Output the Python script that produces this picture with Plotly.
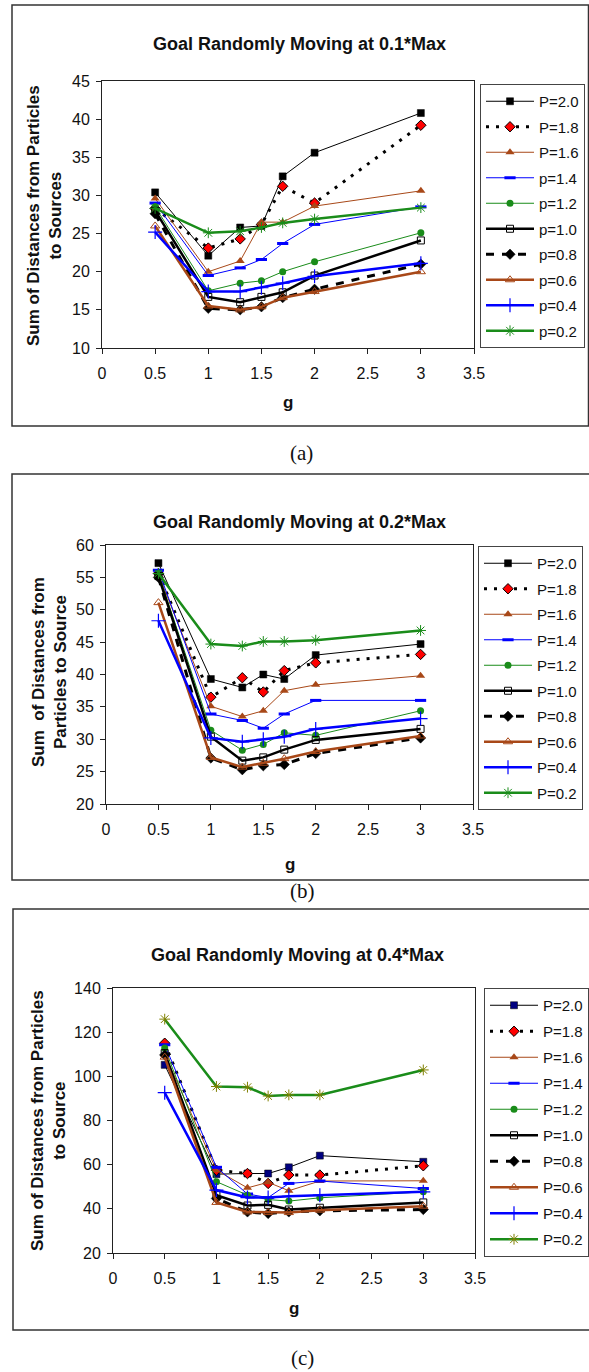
import plotly.graph_objects as go

W, H = 589, 1372

# ---------------- data ----------------
g = [0.5, 1, 1.3, 1.5, 1.7, 2, 3]

labels_a = ["P=2.0", "P=1.8", "P=1.6", "p=1.4", "p=1.2", "p=1.0", "p=0.8", "p=0.6", "p=0.4", "p=0.2"]
labels_bc = ["P=2.0", "P=1.8", "P=1.6", "P=1.4", "P=1.2", "P=1.0", "P=0.8", "P=0.6", "P=0.4", "P=0.2"]

titles = ["Goal Randomly Moving at 0.1*Max",
          "Goal Randomly Moving at 0.2*Max",
          "Goal Randomly Moving at 0.4*Max"]
ytitles = ["Sum of Distances from Particles<br>to Sources",
           "Sum  of Distances from<br>Particles to Source",
           "Sum of Distances from Particles<br>to Source"]
xtitle = "g"
panel_tags = ["(a)", "(b)", "(c)"]

# panel (a): 0.1*Max
a_P20 = [30.4, 22.1, 25.8, 26.0, 32.5, 35.6, 40.8]
a_P18 = [28.3, 23.1, 24.3, 26.2, 31.2, 29.0, 39.2]
a_P16 = [29.6, 20.0, 21.4, 26.5, 26.5, 28.6, 30.6]
a_P14 = [29.0, 19.5, 20.5, 21.6, 23.7, 26.2, 28.5]
a_P12 = [28.5, 17.5, 18.5, 18.8, 20.0, 21.3, 25.1]
a_P10 = [28.0, 16.7, 16.0, 16.7, 17.3, 19.5, 24.1]
a_P08 = [27.6, 15.2, 15.0, 15.4, 16.6, 17.7, 21.0]
a_P06 = [26.0, 15.5, 15.0, 15.4, 16.6, 17.4, 20.0]
a_P04 = [25.2, 17.4, 17.4, 17.9, 18.5, 19.4, 21.1]
a_P02 = [28.3, 25.1, 25.3, 25.8, 26.4, 26.9, 28.4]

# panel (b): 0.2*Max
b_P20 = [57.2, 39.3, 38.0, 40.0, 39.3, 43.0, 44.7]
b_P18 = [55.6, 36.5, 39.5, 37.3, 40.6, 41.8, 43.1]
b_P16 = [55.5, 35.1, 33.5, 34.4, 37.5, 38.4, 39.8]
b_P14 = [56.1, 33.9, 32.9, 31.7, 33.9, 36.0, 36.0]
b_P12 = [55.6, 31.4, 28.3, 29.2, 31.0, 30.6, 34.4]
b_P10 = [55.2, 30.4, 26.7, 27.2, 28.4, 29.9, 31.6]
b_P08 = [55.0, 27.1, 25.3, 25.9, 26.1, 27.8, 30.2]
b_P06 = [51.1, 27.2, 25.7, 26.3, 27.0, 28.1, 30.5]
b_P04 = [48.3, 30.2, 29.6, 30.0, 30.4, 31.6, 33.2]
b_P02 = [55.6, 44.7, 44.4, 45.1, 45.1, 45.3, 46.8]

# panel (c): 0.4*Max
c_P20 = [105.2, 55.7, 56.0, 56.0, 58.8, 64.1, 61.3]
c_P18 = [115.0, 57.5, 56.0, 51.5, 55.3, 55.3, 59.5]
c_P16 = [110.0, 57.5, 49.5, 52.0, 48.2, 52.6, 52.7]
c_P14 = [114.3, 58.8, 46.7, 45.1, 51.5, 52.6, 49.2]
c_P12 = [112.8, 52.3, 46.2, 44.2, 43.5, 45.0, 47.7]
c_P10 = [110.5, 46.2, 41.5, 41.8, 39.7, 40.5, 42.9]
c_P08 = [109.7, 44.7, 38.6, 37.9, 38.6, 39.1, 39.7]
c_P06 = [108.7, 42.9, 38.6, 38.3, 38.3, 39.4, 41.2]
c_P04 = [92.6, 48.5, 45.1, 45.1, 45.7, 46.2, 47.7]
c_P02 = [125.9, 95.4, 95.1, 91.1, 91.6, 91.6, 102.9]

panels = [
    [a_P20, a_P18, a_P16, a_P14, a_P12, a_P10, a_P08, a_P06, a_P04, a_P02],
    [b_P20, b_P18, b_P16, b_P14, b_P12, b_P10, b_P08, b_P06, b_P04, b_P02],
    [c_P20, c_P18, c_P16, c_P14, c_P12, c_P10, c_P08, c_P06, c_P04, c_P02],
]
panel_labels = [labels_a, labels_bc, labels_bc]
y_ranges = [[10, 45], [20, 60], [20, 140]]
y_dticks = [5, 5, 20]

# ---------------- styles ----------------
BLACK = "#000000"
BROWN = "#A84818"
GREEN = "#1A8C1A"
BLUE = "#0000FF"
RED = "#FF0000"
NAVY = "#000080"
OLIVE = "#808000"
FONT = "Liberation Sans, Arial, sans-serif"
TXT = "#111111"

def styles(panel):
    sq_col = NAVY if panel == 2 else BLACK
    star_col = OLIVE if panel == 2 else GREEN
    return [
        dict(line=dict(color=BLACK, width=1),
             marker=dict(symbol="square", size=7, color=sq_col, line=dict(color=BLACK, width=0.5))),
        dict(line=dict(color=BLACK, width=3, dash="3px,7px"),
             marker=dict(symbol="diamond", size=8, color=RED, line=dict(color=BLACK, width=1))),
        dict(line=dict(color=BROWN, width=1),
             marker=dict(symbol="triangle-up", size=8, color=BROWN, line=dict(color=BROWN, width=0))),
        dict(line=dict(color=BLUE, width=1),
             marker=dict(symbol="line-ew-open", size=8, color=BLUE, line=dict(color=BLUE, width=3))),
        dict(line=dict(color=GREEN, width=1),
             marker=dict(symbol="circle", size=7, color=GREEN, line=dict(color=GREEN, width=0))),
        dict(line=dict(color=BLACK, width=2.5),
             marker=dict(symbol="square-open", size=7, color=BLACK, line=dict(color=BLACK, width=1))),
        dict(line=dict(color=BLACK, width=3, dash="8px,8px"),
             marker=dict(symbol="diamond", size=8, color=BLACK, line=dict(color=BLACK, width=0.5))),
        dict(line=dict(color=BROWN, width=2.5),
             marker=dict(symbol="triangle-up-open", size=8, color=BROWN, line=dict(color=BROWN, width=1))),
        dict(line=dict(color=BLUE, width=2.5),
             marker=dict(symbol="cross-thin-open", size=10, color=BLUE, line=dict(color=BLUE, width=1.2))),
        dict(line=dict(color=GREEN, width=2.5),
             marker=dict(symbol="asterisk-open", size=9, color=star_col, line=dict(color=star_col, width=1))),
    ]

# ---------------- layout geometry (pixels) ----------------
plot_px = [  # left, right, top, bottom
    (102, 474, 81, 348),
    (106, 473, 545, 804),
    (113, 475, 988, 1253),
]
legend_px = [(480, 84), (478, 546), (484, 988)]
legend_gap = [3, 3, 3.5]
frame_px = [(12, 588.5, 5, 426), (12, 592, 474, 880), (13, 592, 909, 1330)]
title_px = [(299, 44), (299, 522), (297, 955)]
ytitle_px = [(45, 216), (49, 672), (48, 1121)]
xtitle_px = [(288, 402), (290, 864), (294, 1308)]
tag_px = [(301, 453), (302, 891), (302, 1358)]

def px(x):
    return x / W

def py(y):
    return 1 - y / H

fig = go.Figure()
legend_names = ["legend", "legend2", "legend3"]
axis_suffix = ["", "2", "3"]

for p in range(3):
    st = styles(p)
    for i, (vals, name) in enumerate(zip(panels[p], panel_labels[p])):
        fig.add_trace(go.Scatter(
            x=g, y=vals, name=name, mode="lines+markers",
            line=st[i]["line"], marker=st[i]["marker"],
            xaxis="x" + axis_suffix[p], yaxis="y" + axis_suffix[p],
            legend=legend_names[p], legendgroup=f"p{p}_{i}",
            cliponaxis=False,
        ))

layout = dict(
    width=W, height=H, margin=dict(l=0, r=0, t=0, b=0, pad=0, autoexpand=False),
    paper_bgcolor="white", plot_bgcolor="white",
    font=dict(family=FONT, size=15, color=TXT),
    showlegend=True,
)

shapes = []
annotations = []
for p in range(3):
    l, r, t, b = plot_px[p]
    xa = dict(domain=[px(l), px(r)], range=[0, 3.5], dtick=0.5, tick0=0,
              showgrid=False, zeroline=False, showline=True, mirror=True,
              linecolor="#222", linewidth=1, ticks="outside", ticklen=5,
              tickcolor="#222", tickfont=dict(size=16, color=TXT),
              ticklabelstandoff=6, anchor="y" + axis_suffix[p], fixedrange=True,
              automargin=False)
    ya = dict(domain=[py(b), py(t)], range=y_ranges[p], dtick=y_dticks[p],
              showgrid=False, zeroline=False, showline=True, mirror=True,
              linecolor="#222", linewidth=1, ticks="outside", ticklen=5,
              tickcolor="#222", tickfont=dict(size=16, color=TXT),
              ticklabelstandoff=3, anchor="x" + axis_suffix[p], fixedrange=True,
              automargin=False)
    layout["xaxis" + axis_suffix[p]] = xa
    layout["yaxis" + axis_suffix[p]] = ya

    lx, ly = legend_px[p]
    layout[legend_names[p]] = dict(
        x=px(lx), y=py(ly), xanchor="left", yanchor="top",
        bordercolor="#444", borderwidth=1, bgcolor="white",
        font=dict(size=15, color=TXT, family=FONT),
        itemwidth=48, traceorder="grouped", tracegroupgap=legend_gap[p],
    )

    fx0, fx1, fy0, fy1 = frame_px[p]
    shapes.append(dict(type="rect", xref="paper", yref="paper",
                       x0=px(fx0), x1=px(fx1), y0=py(fy1), y1=py(fy0),
                       line=dict(color="#333", width=1.5), layer="below"))

    tx, ty = title_px[p]
    annotations.append(dict(text="<b>" + titles[p] + "</b>", x=px(tx), y=py(ty),
                            xref="paper", yref="paper", showarrow=False,
                            xanchor="center", yanchor="middle",
                            font=dict(size=18, family=FONT, color=TXT)))
    yx, yy = ytitle_px[p]
    annotations.append(dict(text="<b>" + ytitles[p] + "</b>", x=px(yx), y=py(yy),
                            xref="paper", yref="paper", showarrow=False,
                            textangle=-90, xanchor="center", yanchor="middle",
                            font=dict(size=17, family=FONT, color=TXT)))
    gx, gy = xtitle_px[p]
    annotations.append(dict(text="<b>" + xtitle + "</b>", x=px(gx), y=py(gy),
                            xref="paper", yref="paper", showarrow=False,
                            xanchor="center", yanchor="middle",
                            font=dict(size=17, family=FONT, color=TXT)))
    cx, cy = tag_px[p]
    annotations.append(dict(text=panel_tags[p], x=px(cx), y=py(cy),
                            xref="paper", yref="paper", showarrow=False,
                            xanchor="center", yanchor="middle",
                            font=dict(size=21, family="Liberation Serif, Times New Roman, serif",
                                      color=TXT)))

layout["shapes"] = shapes
layout["annotations"] = annotations
fig.update_layout(**layout)

fig.write_html("out.html",
               config={"displayModeBar": False, "staticPlot": True},
               post_script="document.body.style.margin='0px';"
                           "document.body.style.padding='0px';"
                           "document.documentElement.style.overflow='hidden';")
